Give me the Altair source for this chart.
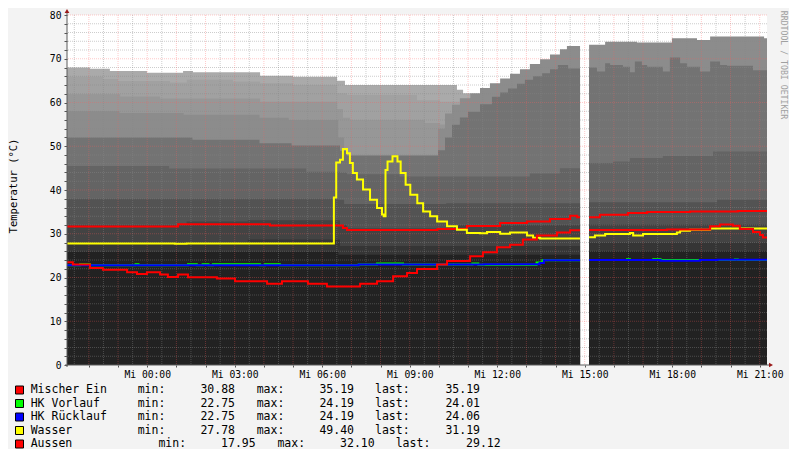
import altair as alt
import pandas as pd

MONO = "DejaVu Sans Mono"

# time axis: hours after Tue 21:15 (24 h window); data gap around 15:00
GAP_START = 17.59
GAP_END = 17.90
T_END = 24.0

# ---------------- gray background layers (°C), drawn back to front ----------------
LAYER_COLORS = ["#aaaaaa", "#a1a1a1", "#979797", "#8c8c8c", "#737373",
                "#646464", "#535353", "#434343", "#353535", "#222222"]

LA_T = [0, 0.79, 1.47, 2.74, 3.98, 4.32, 6.62, 7.75, 9.26, 9.53, 13.37, 13.58, 13.82, 17.90]
LA_V = [68.0, 67.7, 67.2, 66.8, 67.2, 66.9, 66.1, 65.9, 65.0, 64.0, 62.9, 62.1, 55.0, 55.0]

LB_T = [0, 1.23, 1.75, 3.53, 4.11, 5.69, 6.62, 7.75, 9.26, 9.60, 12.00, 12.79, 13.47, 17.90]
LB_V = [65.9, 65.4, 64.9, 64.6, 65.2, 64.8, 64.4, 64.0, 62.1, 61.7, 60.5, 60.2, 55.0, 55.0]

LC_T = [0, 1.82, 3.19, 6.62, 9.26, 9.46, 9.70, 12.27, 12.79, 13.40, 17.90]
LC_V = [61.9, 61.4, 60.9, 60.2, 58.5, 56.5, 56.0, 55.3, 55.0, 50.0, 50.0]

LD_T = [0, 1.80, 4.00, 6.60, 7.60, 9.30, 9.50, 12.72, 12.96, 13.20, 13.47, 13.82, 14.16,
        14.50, 14.85, 15.19, 15.53, 15.87, 16.22, 16.56, 16.90, 17.14,
        17.90, 18.45, 19.54, 20.74, 21.60, 22.05, 23.90]
LD_V = [58.0, 57.6, 57.2, 56.5, 56.0, 52.0, 47.5, 54.0, 57.5, 59.5, 61.0, 62.1, 63.3,
        64.4, 65.5, 66.6, 67.6, 68.8, 69.9, 71.0, 72.2, 72.9,
        73.2, 73.9, 73.7, 74.7, 74.3, 75.1, 74.7]

LE_T = [0, 4.30, 6.60, 7.70, 9.36, 9.60, 12.72, 12.96, 13.20, 13.47, 13.75, 14.16, 14.57,
        14.85, 15.12, 15.43, 15.70, 15.98, 16.29, 16.56, 16.83, 17.18,
        17.90, 18.17, 18.45, 18.62, 19.06, 19.30, 19.47, 19.71, 19.89, 20.43, 20.67,
        21.02, 21.26, 21.70, 22.05, 22.39, 22.63, 23.52]
LE_V = [52.0, 51.5, 50.7, 50.2, 49.0, 47.9, 49.1, 52.0, 54.9, 56.6, 57.9, 59.6, 61.3,
        62.3, 63.2, 64.3, 65.2, 66.0, 66.7, 67.6, 68.6, 67.8,
        68.0, 67.1, 69.0, 68.6, 68.2, 66.9, 69.4, 68.6, 68.2, 67.1, 70.3,
        69.0, 68.2, 67.1, 69.4, 68.6, 68.4, 67.4]

LF_T = [0, 3.50, 8.20, 9.36, 9.60, 11.40, 15.87, 16.90, 17.90, 18.72, 19.30, 20.43, 22.15]
LF_V = [45.5, 44.9, 44.2, 44.0, 43.6, 43.1, 43.8, 45.0, 46.2, 46.5, 47.3, 47.8, 48.8]

LG_T = [0, 9.30, 9.50, 13.00, 17.90, 22.29]
LG_V = [38.0, 37.8, 36.8, 37.0, 37.2, 37.8]

LH_T = [0, 4.10, 6.20, 9.36, 9.60, 13.00, 17.90]
LH_V = [32.0, 32.8, 33.1, 32.0, 31.2, 32.0, 32.1]

LI_T = [0, 6.20, 9.36, 17.90]
LI_V = [28.0, 28.7, 27.2, 28.0]

LJ_T = [0, 9.30, 17.90]
LJ_V = [25.9, 25.2, 26.0]

LAYERS = [(LA_T, LA_V), (LB_T, LB_V), (LC_T, LC_V), (LD_T, LD_V), (LE_T, LE_V),
          (LF_T, LF_V), (LG_T, LG_V), (LH_T, LH_V), (LI_T, LI_V), (LJ_T, LJ_V)]

# ---------------- temperature lines (°C) ----------------
MISCHER_T = [0, 3.81, 6.96, 9.46, 9.60, 12.70, 13.71, 14.85, 15.77, 16.56, 17.25, 17.49,
             17.90, 18.27, 19.23, 19.89, 21.36, 23.00]
MISCHER_V = [31.65, 32.2, 31.9, 31.3, 30.88, 31.1, 31.8, 32.45, 32.8, 33.35, 34.1, 33.75,
             33.75, 34.35, 34.75, 34.98, 35.1, 35.19]

VORLAUF_T = [0, 0.45, 0.79, 2.35, 2.45, 4.15, 4.45, 4.65, 4.85, 5.00, 6.62, 6.79, 7.30,
             10.00, 10.63, 11.52, 13.90, 14.10, 16.10, 16.30,
             17.90, 19.20, 19.30, 20.10, 20.35, 22.90, 23.00]
VORLAUF_V = [22.8, 23.05, 22.8, 23.05, 22.8, 23.05, 22.8, 23.05, 22.8, 23.05, 22.8, 23.05, 22.8,
             22.95, 23.2, 22.95, 23.2, 22.9, 23.45, 23.95,
             24.0, 24.15, 24.0, 24.19, 24.0, 24.1, 24.01]

RUECKLAUF_T = [0, 10.00, 14.30, 16.20, 16.35, 17.90, 20.35, 21.70, 22.30]
RUECKLAUF_V = [22.8, 22.95, 23.05, 23.3, 23.95, 24.0, 23.85, 24.0, 24.06]

WASSER_T = [0, 3.70, 4.10, 9.15, 9.23, 9.36, 9.46, 9.60, 9.70, 9.80, 9.94, 10.15, 10.39,
            10.63, 10.80, 10.86, 10.92, 10.99, 11.16, 11.33, 11.44, 11.61, 11.77, 12.01,
            12.21, 12.45, 12.69, 13.03, 13.37, 13.71, 14.16, 14.40, 14.85, 15.19, 15.77,
            15.98, 16.22,
            17.90, 18.10, 18.45, 19.30, 19.41, 19.75, 20.91, 21.02, 21.36, 22.05]
WASSER_V = [27.8, 27.7, 27.8, 38.3, 46.3, 46.9, 49.4, 48.4, 46.2, 43.9, 42.4, 40.1, 37.8,
            35.9, 34.4, 34.0, 44.6, 46.5, 47.7, 46.5, 43.9, 41.2, 38.9, 37.0,
            35.1, 34.0, 32.8, 31.7, 30.9, 30.2, 30.1, 30.4, 30.0, 30.3, 29.6,
            29.1, 28.9,
            29.2, 29.6, 29.95, 30.2, 29.6, 29.95, 30.3, 30.7, 30.9, 31.19]

AUSSEN_T = [0, 0.20, 0.79, 1.23, 2.06, 2.40, 2.74, 3.19, 3.46, 3.81, 4.15, 5.14, 5.76,
            6.86, 7.37, 8.26, 8.91, 10.05, 10.63, 11.18, 11.66, 12.00, 12.69, 13.03,
            13.82, 14.26, 14.74, 15.19, 15.63, 16.11, 16.80, 17.25,
            17.90, 20.57, 22.05, 22.39, 22.83, 23.07, 23.52, 23.76, 23.86]
AUSSEN_V = [23.5, 22.95, 22.2, 21.8, 21.2, 20.8, 21.2, 20.7, 20.1, 20.7, 20.05, 19.75, 19.15,
            18.6, 19.15, 18.6, 17.95, 18.6, 19.15, 20.3, 21.05, 21.95, 22.95, 23.8,
            24.85, 25.8, 26.9, 27.5, 28.7, 29.6, 30.3, 30.8,
            30.85, 30.95, 31.7, 32.1, 31.85, 31.1, 30.4, 29.7, 29.12]

SERIES_NAMES = ["Mischer Ein", "HK Vorlauf", "HK Rücklauf", "Wasser", "Aussen"]
SERIES_COLORS = ["#ff0000", "#00ff00", "#0000ff", "#ffff00", "#ff0000"]
SERIES_DATA = [(MISCHER_T, MISCHER_V), (VORLAUF_T, VORLAUF_V), (RUECKLAUF_T, RUECKLAUF_V),
               (WASSER_T, WASSER_V), (AUSSEN_T, AUSSEN_V)]
STAT_MIN = [30.88, 22.75, 22.75, 27.78, 17.95]
STAT_MAX = [35.19, 24.19, 24.19, 49.40, 32.10]
STAT_LAST = [35.19, 24.01, 24.06, 31.19, 29.12]

# ---------------- axis / grid ----------------
X_TICK_T = [2.75, 5.75, 8.75, 11.75, 14.75, 17.75, 20.75, 23.75]
X_TICK_LABELS = ["Mi 00:00", "Mi 03:00", "Mi 06:00", "Mi 09:00",
                 "Mi 12:00", "Mi 15:00", "Mi 18:00", "Mi 21:00"]
MAJOR_T = [0.75 + k for k in range(24)]
MINOR_T = [0.25 + k for k in range(24)]
MAJOR_V = list(range(10, 81, 10))
MINOR_V = [v for v in range(2, 80, 2) if v % 10]
Y_TICKS = list(range(0, 81, 2))


def seg_frame(ts, vs):
    s1 = [(t, v) for t, v in zip(ts, vs) if t < GAP_START]
    s2 = [(t, v) for t, v in zip(ts, vs) if t >= GAP_END]
    s1 = s1 + [(GAP_START, s1[-1][1])]
    s2 = s2 + [(T_END, s2[-1][1])]
    rows = [{"t": t, "v": v, "seg": 1} for t, v in s1]
    rows += [{"t": t, "v": v, "seg": 2} for t, v in s2]
    return pd.DataFrame(rows)


label_expr = " : ".join(f"datum.value == {t} ? '{lab}'"
                        for t, lab in zip(X_TICK_T, X_TICK_LABELS)) + " : ''"

X = alt.X("t:Q", scale=alt.Scale(domain=[0, 24], nice=False, zero=False),
          axis=alt.Axis(values=MAJOR_T, labelExpr=label_expr, title=None, grid=False,
                        domain=False, tickSize=2, tickColor="#555555", labelFont=MONO,
                        labelFontSize=9.7, labelColor="#000000", labelPadding=2,
                        labelOverlap=False, labelFlush=False))
Y = alt.Y("v:Q", stack=None, scale=alt.Scale(domain=[0, 80], nice=False),
          axis=alt.Axis(values=Y_TICKS, labelExpr="datum.value % 10 == 0 ? datum.label : ''",
                        format="d", title=None, grid=False, domain=False, tickSize=3,
                        tickColor="#555555", labelFont=MONO, labelFontSize=9.7,
                        labelColor="#000000", labelPadding=3, labelOverlap=False))

layers = []

# gray areas
for (ts, vs), col in zip(LAYERS, LAYER_COLORS):
    layers.append(
        alt.Chart(seg_frame(ts, vs)).mark_area(interpolate="step-after", color=col,
                                                opacity=1, clip=True)
        .encode(x=X, y=Y, detail="seg:N"))

# grid
MINOR_COL = "rgba(135,135,135,0.42)"
MAJOR_COL = "rgba(255,90,90,0.32)"
layers.append(alt.Chart(pd.DataFrame({"t": MINOR_T})).mark_rule(
    color=MINOR_COL, strokeWidth=1, strokeDash=[1, 1]).encode(x=X))
layers.append(alt.Chart(pd.DataFrame({"v": MINOR_V})).mark_rule(
    color=MINOR_COL, strokeWidth=1, strokeDash=[1, 1]).encode(y=Y))
layers.append(alt.Chart(pd.DataFrame({"t": MAJOR_T})).mark_rule(
    color=MAJOR_COL, strokeWidth=1, strokeDash=[1, 1]).encode(x=X))
layers.append(alt.Chart(pd.DataFrame({"v": MAJOR_V})).mark_rule(
    color=MAJOR_COL, strokeWidth=1, strokeDash=[1, 1]).encode(y=Y))

# temperature lines
for (ts, vs), col in zip(SERIES_DATA, SERIES_COLORS):
    layers.append(
        alt.Chart(seg_frame(ts, vs)).mark_line(interpolate="step-after", color=col,
                                                strokeWidth=2, clip=True)
        .encode(x=X, y=Y, detail="seg:N"))

one = pd.DataFrame({"k": [0]})
AXIS_COL = "#5a5a5a"
ARROW_COL = "#9b1b1b"
layers.append(alt.Chart(one).mark_rule(color=AXIS_COL, strokeWidth=1).encode(
    x=alt.value(0), y=alt.value(-4), y2=alt.value(352)))
layers.append(alt.Chart(one).mark_rule(color=AXIS_COL, strokeWidth=1).encode(
    x=alt.value(-2), x2=alt.value(703), y=alt.value(350)))
layers.append(alt.Chart(one).mark_point(shape="triangle-up", filled=True, size=22,
                                        color=ARROW_COL, opacity=1).encode(
    x=alt.value(0), y=alt.value(-4)))
layers.append(alt.Chart(one).mark_point(shape="triangle-right", filled=True, size=22,
                                        color=ARROW_COL, opacity=1).encode(
    x=alt.value(704), y=alt.value(350)))

# titles
layers.append(alt.Chart(one).mark_text(text="Temperatur (°C)", font=MONO, fontSize=10.5,
                                       angle=270, align="center", baseline="middle",
                                       color="#000000").encode(
    x=alt.value(-53.5), y=alt.value(171)))
layers.append(alt.Chart(one).mark_text(text="RRDTOOL / TOBI OETIKER", font=MONO, fontSize=8.2,
                                       angle=90, align="center", baseline="middle",
                                       color="#a0a0a0").encode(
    x=alt.value(716), y=alt.value(50)))

# legend
LEG_FS = 11.5
for i, (name, col, mn, mx, last) in enumerate(zip(SERIES_NAMES, SERIES_COLORS,
                                                 STAT_MIN, STAT_MAX, STAT_LAST)):
    yy = 375 + 13.5 * i
    sh = 20.7 if name == "Aussen" else 0.0
    layers.append(alt.Chart(one).mark_square(size=64, filled=True, fill=col, stroke="#000000",
                                             strokeWidth=1, opacity=1).encode(
        x=alt.value(-47.5), y=alt.value(yy)))
    pieces = [
        (name, -36.3, "left"),
        ("min:", 70.7 + sh, "left"),
        (f"{mn:.2f}", 168 + sh, "right"),
        ("max:", 189.7 + sh, "left"),
        (f"{mx:.2f}", 287 + sh, "right"),
        ("last:", 308 + sh, "left"),
        (f"{last:.2f}", 413 + sh, "right"),
    ]
    for txt, px, al in pieces:
        layers.append(alt.Chart(one).mark_text(text=txt, font=MONO, fontSize=LEG_FS,
                                               align=al, baseline="middle",
                                               color="#000000").encode(
            x=alt.value(px), y=alt.value(yy)))

chart = alt.layer(*layers).properties(
    width=700, height=350,
    padding={"left": 59, "top": 7, "right": 22, "bottom": 84},
    autosize=alt.AutoSizeParams(type="none"),
    background="#f3f3f3",
).configure_view(fill="white", stroke=None)

chart.save("out.html", embed_options={"renderer": "svg", "actions": False})
